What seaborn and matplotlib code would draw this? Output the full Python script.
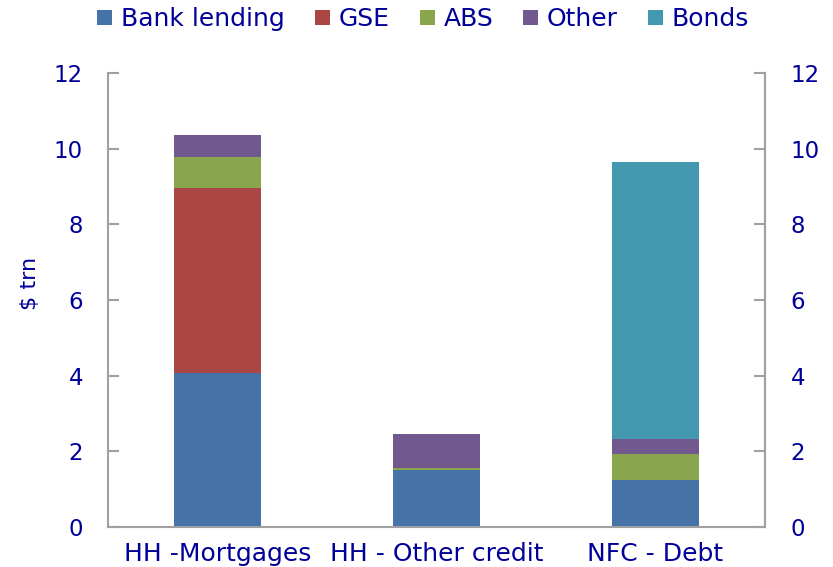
import matplotlib.pyplot as plt
import numpy as np
import pandas as pd
import seaborn as sns
from matplotlib.patches import Patch

categories = ["HH -Mortgages", "HH - Other credit", "NFC - Debt"]
series = ["Bank lending", "GSE", "ABS", "Other", "Bonds"]
bank_lending = [4.07, 1.51, 1.24]
gse = [4.88, 0.0, 0.0]
abs_ = [0.84, 0.04, 0.68]
other = [0.57, 0.90, 0.41]
bonds = [0.0, 0.0, 7.32]
yticks = [0, 2, 4, 6, 8, 10, 12]

colors = ["#4572A7", "#AA4643", "#89A54E", "#71588F", "#4198AF"]
text_col = "#000099"
spine_col = "#A0A0A0"

df = pd.DataFrame({"category": categories, "Bank lending": bank_lending,
                   "GSE": gse, "ABS": abs_, "Other": other, "Bonds": bonds})

sns.set_style("white")
plt.rcParams["font.family"] = ["DejaVu Sans"]

fig = plt.figure(figsize=(8.33, 5.67), dpi=100)
ax = fig.add_axes([0.1297, 0.0705, 0.7886, 0.8007])

# stacked bars, one barplot call per series
bottom = np.zeros(len(categories))
for name, col in zip(series, colors):
    sns.barplot(data=df, x="category", y=name, color=col, width=0.4,
                bottom=bottom, saturation=1, ax=ax, linewidth=0)
    bottom = bottom + df[name].values

ax.set_xlim(-0.5, 2.5)
ax.set_ylim(0, 12)
ax.set_yticks(yticks)
ax.set_xlabel("")
ax.set_ylabel(r"\$ trn", color=text_col, fontsize=16)
ax.yaxis.set_label_coords(-0.1035, 0.536)

ax.spines["top"].set_visible(False)
for s in ["left", "bottom", "right"]:
    ax.spines[s].set_color(spine_col)
    ax.spines[s].set_linewidth(1.5)

ax.tick_params(axis="y", direction="in", length=8, width=1.5, color=spine_col,
               labelcolor=text_col, labelsize=16.5, pad=18, left=True)
ax.tick_params(axis="x", which="major", length=0, labelcolor=text_col,
               labelsize=18, pad=11)
ax.set_xticks([-0.5, 0.5, 1.5, 2.5], minor=True)
ax.tick_params(axis="x", which="minor", direction="out", length=6, width=1.5,
               color=spine_col)

ax2 = ax.twinx()
ax2.set_ylim(0, 12)
ax2.set_yticks(yticks)
for s in ["top", "left", "bottom"]:
    ax2.spines[s].set_visible(False)
ax2.spines["right"].set_color(spine_col)
ax2.spines["right"].set_linewidth(1.5)
ax2.tick_params(axis="y", direction="in", length=8, width=1.5, color=spine_col,
                labelcolor=text_col, labelsize=16.5, pad=18.5, right=True)

handles = [Patch(facecolor=c, edgecolor="none") for c in colors]
leg = fig.legend(handles, series, loc="center", bbox_to_anchor=(0.508, 0.966),
                 ncol=5, frameon=False, fontsize=18, handlelength=0.6,
                 handleheight=0.6, handletextpad=0.35, columnspacing=1.2,
                 borderpad=0)
for t in leg.get_texts():
    t.set_color(text_col)

fig.savefig("out.png", dpi=100)
